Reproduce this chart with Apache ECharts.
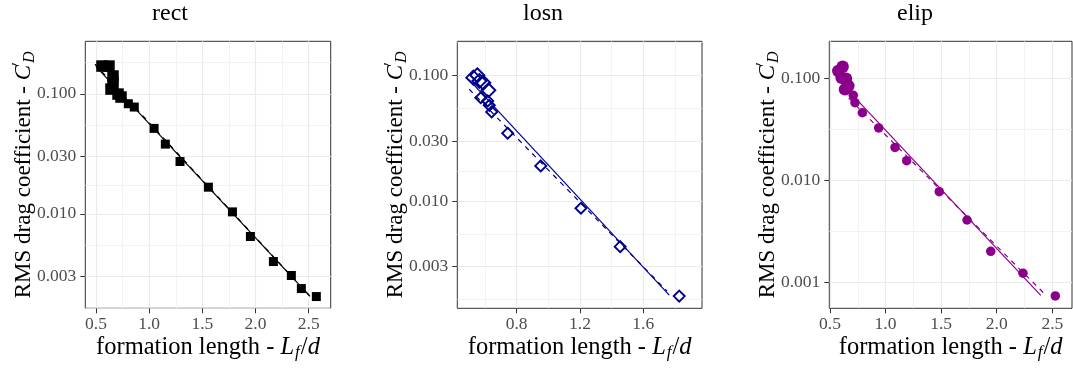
<!DOCTYPE html>
<html><head><meta charset="utf-8">
<script src="https://cdn.jsdelivr.net/npm/echarts@6/dist/echarts.min.js"></script>
<style>html,body{margin:0;padding:0;background:#fff}#c{width:1073px;height:371px}</style>
</head><body><div id="c"></div>
<script>
// ---------- data ----------
const panelNames = ['rect', 'losn', 'elip'];

const rectX = [0.556, 0.622, 0.660, 0.660, 0.641, 0.707, 0.735, 0.804, 0.860, 1.046, 1.152, 1.290, 1.557, 1.783, 1.952, 2.168, 2.337, 2.431, 2.572];
const rectY = [0.170, 0.170, 0.1405, 0.1227, 0.1094, 0.0994, 0.0939, 0.0826, 0.0775, 0.0515, 0.0381, 0.0273, 0.01668, 0.01039, 0.00648, 0.00401, 0.00307, 0.00239, 0.00205];

const losnX = [0.526, 0.551, 0.564, 0.589, 0.621, 0.573, 0.617, 0.627, 0.642, 0.743, 0.952, 1.206, 1.454, 1.827];
const losnY = [0.0957, 0.100, 0.0901, 0.0873, 0.0760, 0.0663, 0.0625, 0.0577, 0.0511, 0.0346, 0.0190, 0.00875, 0.00433, 0.00175];

const elipX = [0.575, 0.614, 0.605, 0.644, 0.665, 0.635, 0.710, 0.725, 0.791, 0.938, 1.085, 1.190, 1.483, 1.733, 1.946, 2.236, 2.527];
const elipY = [0.119, 0.131, 0.102, 0.100, 0.0848, 0.0787, 0.0687, 0.0582, 0.0464, 0.0329, 0.0212, 0.0157, 0.0078, 0.00412, 0.00203, 0.00124, 0.000741];

// fitted lines (end points)
const rectFitX = [0.50, 2.513];
const rectFitY = [0.168, 0.00206];
const rectFit2X = [0.49, 2.52];
const rectFit2Y = [0.176, 0.00203];

const losnFitX = [0.50, 1.764];
const losnFitY = [0.0918, 0.00178];
const losnFit2X = [0.50, 1.75];
const losnFit2Y = [0.0774, 0.00192];

const elipFitX = [0.60, 2.396];
const elipFitY = [0.0912, 0.000752];
const elipFit2X = [0.605, 2.434];
const elipFit2Y = [0.0757, 0.000769];

// axis limits
const rectXlim = [0.3993, 2.707], rectYlim = [0.001637, 0.2733];
const losnXlim = [0.4248, 1.971], losnYlim = [0.0014, 0.1864];
const elipXlim = [0.494, 2.677], elipYlim = [0.000561, 0.2328];

// tick values
const xTicksA = [0.5, 1.0, 1.5, 2.0, 2.5];
const xMinorA = [0.75, 1.25, 1.75, 2.25];
const xTicksB = [0.8, 1.2, 1.6];
const xMinorB = [0.6, 1.0, 1.4, 1.8];
const yTicksA = [0.003, 0.01, 0.03, 0.1];
const yMinorA = [0.001642, 0.005477, 0.01732, 0.05477, 0.1826];
const yTicksB = [0.001, 0.01, 0.1];
const yMinorB = [0.003162, 0.03162];

// ---------- layout / style ----------
const FONT = 'Liberation Serif';
const TOP = 41.3, H = 267;
const panels = [
  {x: rectX, y: rectY, f1: [rectFitX, rectFitY], f2: [rectFit2X, rectFit2Y], xlim: rectXlim, ylim: rectYlim,
   xt: xTicksA, xm: xMinorA, yt: yTicksA, ym: yMinorA, left: 85.3, width: 245.4, titleX: 170,
   color: '#000000', symbol: 'rect', big: 11.5, small: 9, thr: 0.09, open: false},
  {x: losnX, y: losnY, f1: [losnFitX, losnFitY], f2: [losnFit2X, losnFit2Y], xlim: losnXlim, ylim: losnYlim,
   xt: xTicksB, xm: xMinorB, yt: yTicksA, ym: yMinorA, left: 457.3, width: 244.7, titleX: 543,
   color: '#00008B', symbol: 'diamond', big: 14, small: 11, thr: 0.07, open: true},
  {x: elipX, y: elipY, f1: [elipFitX, elipFitY], f2: [elipFit2X, elipFit2Y], xlim: elipXlim, ylim: elipYlim,
   xt: xTicksA, xm: xMinorA, yt: yTicksB, ym: yMinorB, left: 829.3, width: 242.7, titleX: 915,
   color: '#8B008B', symbol: 'circle', big: 12.5, small: 9.5, thr: 0.075, open: false}
];

const grid = [], xAxis = [], yAxis = [], series = [], graphic = [];
const tickLabel = {fontFamily: FONT, fontSize: 17.5, color: '#4D4D4D'};

panels.forEach((p, k) => {
  grid.push({left: p.left, top: TOP, width: p.width, height: H, show: true,
             borderColor: '#333333', borderWidth: 1, backgroundColor: 'transparent'});
  // major x
  xAxis.push({type: 'value', gridIndex: k, min: p.xlim[0], max: p.xlim[1], position: 'bottom',
    axisLine: {show: false},
    axisTick: {show: true, length: 5, lineStyle: {color: '#333333', width: 1}, customValues: p.xt},
    axisLabel: Object.assign({show: true, margin: 7, customValues: p.xt,
      formatter: v => Number(v).toFixed(1)}, tickLabel),
    splitLine: {show: true, lineStyle: {color: '#EBEBEB', width: 1.2}}, z: 2});
  // minor x
  xAxis.push({type: 'value', gridIndex: k, min: p.xlim[0], max: p.xlim[1], position: 'top',
    axisLine: {show: false}, axisTick: {show: false, customValues: p.xm},
    axisLabel: {show: false, customValues: p.xm},
    splitLine: {show: true, lineStyle: {color: '#F0F0F0', width: 0.8}}, z: 1});
  // major y
  yAxis.push({type: 'log', gridIndex: k, min: p.ylim[0], max: p.ylim[1], position: 'left',
    axisLine: {show: false},
    axisTick: {show: true, length: 5, lineStyle: {color: '#333333', width: 1}, customValues: p.yt},
    axisLabel: Object.assign({show: true, margin: 9, customValues: p.yt,
      formatter: v => Number(v).toFixed(3)}, tickLabel),
    splitLine: {show: true, lineStyle: {color: '#EBEBEB', width: 1.2}}, z: 2});
  // minor y
  yAxis.push({type: 'log', gridIndex: k, min: p.ylim[0], max: p.ylim[1], position: 'right',
    axisLine: {show: false}, axisTick: {show: false, customValues: p.ym},
    axisLabel: {show: false, customValues: p.ym},
    splitLine: {show: true, lineStyle: {color: '#F0F0F0', width: 0.8}}, z: 1});

  const mk = (xs, ys) => xs.map((v, i) => [v, ys[i]]);
  series.push({type: 'line', xAxisIndex: 2 * k, yAxisIndex: 2 * k, data: mk(p.f1[0], p.f1[1]),
    symbol: 'none', silent: true, lineStyle: {color: p.color, width: 1.2, type: 'solid'}, z: 3});
  series.push({type: 'line', xAxisIndex: 2 * k, yAxisIndex: 2 * k, data: mk(p.f2[0], p.f2[1]),
    symbol: 'none', silent: true, lineStyle: {color: p.color, width: 1.2, type: [5, 5]}, z: 3});
  series.push({type: 'scatter', xAxisIndex: 2 * k, yAxisIndex: 2 * k, data: mk(p.x, p.y),
    symbol: p.symbol, silent: true,
    symbolSize: v => (v[1] > p.thr ? p.big : p.small),
    itemStyle: p.open ? {color: 'rgba(255,255,255,0)', borderColor: p.color, borderWidth: 1.9, opacity: 1}
                      : {color: p.color, opacity: 1},
    z: 4});

  // title
  graphic.push({type: 'text', x: p.titleX, y: 14, silent: true,
    style: {text: panelNames[k], fontFamily: FONT, fontSize: 24, fill: '#000', align: 'center', verticalAlign: 'middle'}});
  // x axis title
  graphic.push({type: 'text', x: p.left + p.width / 2, y: 348, silent: true,
    style: {text: '{n|formation length - }{i|L}{s|f}{n|/}{i|d}', align: 'center', verticalAlign: 'middle',
      rich: {
        n: {fontFamily: FONT, fontSize: 24.5, fill: '#000'},
        i: {fontFamily: FONT, fontSize: 24.5, fontStyle: 'italic', fill: '#000'},
        s: {fontFamily: FONT, fontSize: 17, fontStyle: 'italic', fill: '#000', padding: [9, 1, 0, 1]}
      }}});
  // y axis title
  graphic.push({type: 'text', x: p.left - 61, y: TOP + H / 2, rotation: Math.PI / 2, silent: true,
    style: {text: '{n|RMS drag coefficient - }{i|C}{p|′}{s|D}', align: 'center', verticalAlign: 'middle',
      rich: {
        n: {fontFamily: FONT, fontSize: 23, fill: '#000'},
        i: {fontFamily: FONT, fontSize: 23, fontStyle: 'italic', fill: '#000'},
        p: {fontFamily: FONT, fontSize: 17, fill: '#000', padding: [0, 0, 12, 0], width: 2},
        s: {fontFamily: FONT, fontSize: 16, fontStyle: 'italic', fill: '#000', padding: [10, 0, 0, 0]}
      }}});
});

const chart = echarts.init(document.getElementById('c'), null, {renderer: 'canvas'});
chart.setOption({animation: false, backgroundColor: '#ffffff', grid, xAxis, yAxis, series, graphic});
</script></body></html>
